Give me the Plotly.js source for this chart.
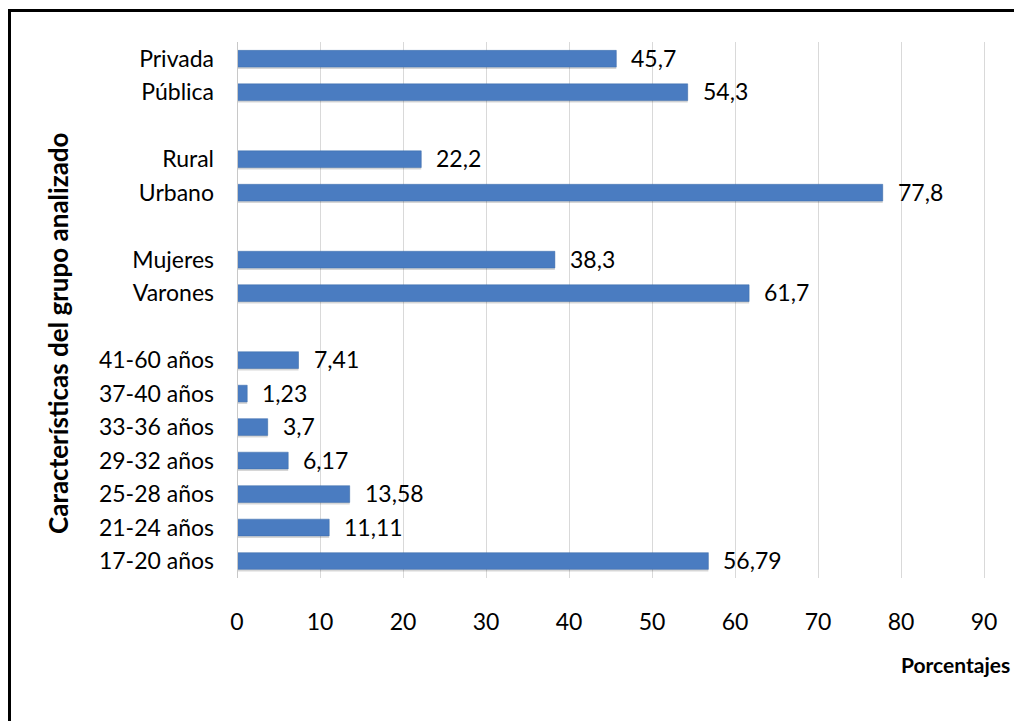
<!DOCTYPE html>
<html>
<head>
<meta charset="utf-8">
<script src="https://cdn.plot.ly/plotly-3.0.1.min.js"></script>
<style>
  html, body { margin: 0; padding: 0; width: 1014px; height: 721px; overflow: hidden; background: #fff; }
  #chart { position: absolute; left: 0; top: 0; width: 1100px; height: 721px; }
  #frame { position: absolute; left: 8px; top: 9px; width: 1200px; height: 900px; border: 3px solid #000; pointer-events: none; }
</style>
</head>
<body>
<div id="chart"></div>
<div id="frame"></div>
<script>
// Categories, top to bottom (blank entries are the gaps between groups)
const categories = [
  'Privada', 'Pública', ' ',
  'Rural', 'Urbano', '  ',
  'Mujeres', 'Varones', '   ',
  '41-60 años', '37-40 años', '33-36 años', '29-32 años', '25-28 años', '21-24 años', '17-20 años'
];
// Percentages (null = gap)
const values = [
  45.7, 54.3, null,
  22.2, 77.8, null,
  38.3, 61.7, null,
  7.41, 1.23, 3.7, 6.17, 13.58, 11.11, 56.79
];
const xTicks = [0, 10, 20, 30, 40, 50, 60, 70, 80, 90];

const labels = values.map(v => v === null ? '' : String(v).replace('.', ','));
const font = 'Lato, "Open Sans", "DejaVu Sans", sans-serif';
const fs = 23;

const shadow = {
  type: 'bar', orientation: 'h',
  x: values, y: categories,
  width: 0.5, offset: -0.19,
  marker: { color: 'rgba(0,0,0,0.16)' },
  hoverinfo: 'skip', showlegend: false
};
const bars = {
  type: 'bar', orientation: 'h',
  x: values, y: categories,
  width: 0.5, offset: -0.25,
  marker: { color: '#4a7cc1', line: { color: '#3d6cab', width: 0.5 } },
  showlegend: false
};

const annotations = [];
values.forEach((v, i) => {
  if (v === null) return;
  annotations.push({
    x: v, y: categories[i], xref: 'x', yref: 'y',
    text: labels[i], showarrow: false,
    xanchor: 'left', yanchor: 'middle', xshift: 13, yshift: 1,
    font: { family: font, size: fs, color: '#000' }
  });
});
annotations.push({
  xref: 'paper', yref: 'paper', x: (1012 - 237) / 830, y: -0.162,
  xanchor: 'right', yanchor: 'middle', showarrow: false,
  text: '<b>Porcentajes</b>',
  font: { family: font, size: 21, color: '#000' }
});
annotations.push({
  xref: 'paper', yref: 'paper', x: -0.2157, y: 0.457,
  xanchor: 'center', yanchor: 'middle', showarrow: false, textangle: -90,
  text: '<b>Características del grupo analizado</b>',
  font: { family: font, size: 26, color: '#000' }
});

const layout = {
  width: 1100, height: 721,
  margin: { l: 237, r: 33, t: 42, b: 143 },
  paper_bgcolor: '#fff', plot_bgcolor: '#fff',
  barmode: 'overlay',
  font: { family: font, size: fs, color: '#000' },
  xaxis: {
    range: [0, 100], tickvals: xTicks, ticks: '',
    showgrid: true, gridcolor: '#d9d9d9', gridwidth: 1,
    zeroline: false, showline: false,
    ticklabelstandoff: 28,
    tickfont: { family: font, size: fs, color: '#000' },
    fixedrange: true
  },
  yaxis: {
    type: 'category', categoryorder: 'array', categoryarray: categories,
    autorange: 'reversed', ticks: '',
    showgrid: false, zeroline: false,
    showline: false,
    ticklabelstandoff: 22,
    tickfont: { family: font, size: fs, color: '#000' },
    fixedrange: true
  },
  shapes: [{
    type: 'line', xref: 'x', yref: 'paper', x0: 0, x1: 0, y0: 0, y1: 1,
    line: { color: '#c8c8c8', width: 2 }
  }],
  annotations: annotations
};

Plotly.newPlot('chart', [shadow, bars], layout, { displayModeBar: false, staticPlot: true });
</script>
</body>
</html>
